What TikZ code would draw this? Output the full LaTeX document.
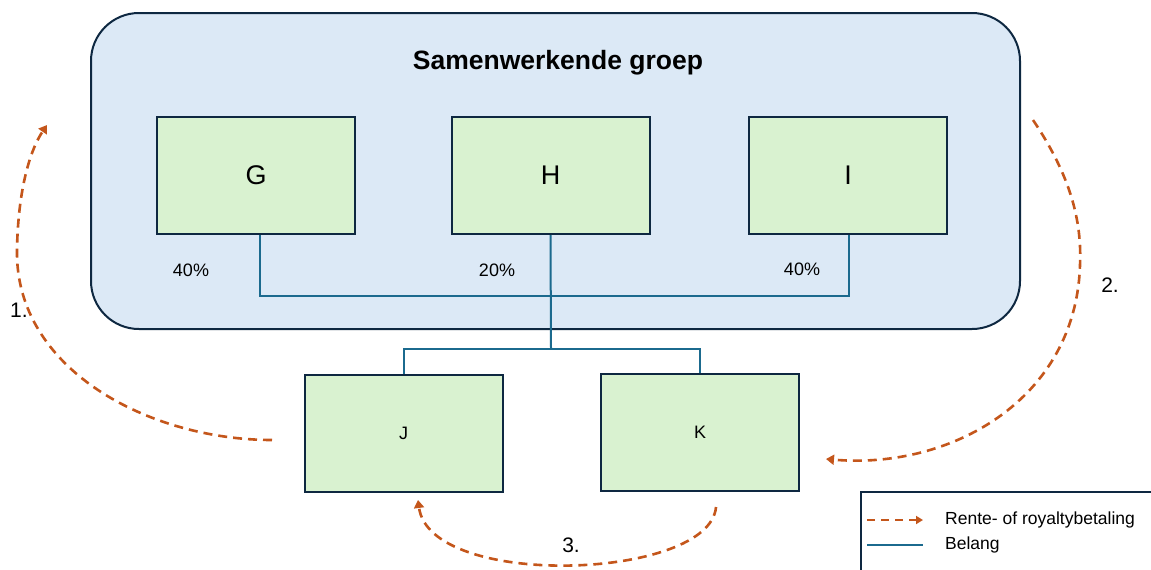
\documentclass[tikz,border=0pt]{standalone}
\usepackage{fontspec}
\setmainfont{Liberation Sans}
\usetikzlibrary{arrows.meta}
\definecolor{groupfill}{HTML}{DCE9F6}
\definecolor{entityfill}{HTML}{D9F2D0}
\definecolor{edge}{HTML}{0E2841}
\definecolor{stake}{HTML}{1B6A8E}
\definecolor{pay}{HTML}{C4561B}
\tikzset{
  x=1pt, y=-1pt,
  entity/.style={draw=edge, line width=2pt, fill=entityfill, minimum width=198pt, minimum height=117pt, inner sep=0pt},
  stakeline/.style={draw=stake, line width=2pt},
  payment/.style={draw=pay, line width=2.6pt, dash pattern=on 9pt off 6pt, -{Triangle[width=10pt,length=8pt]}},
  pct/.style={font=\fontsize{18}{18}\selectfont, inner sep=0pt},
  step label/.style={font=\fontsize{21}{21}\selectfont, inner sep=0pt},
  legend text/.style={anchor=west, inner sep=0pt, font=\fontsize{17.5}{17.5}\selectfont},
}
\begin{document}
\begin{tikzpicture}
\useasboundingbox (0,0) rectangle (1151,570);
% group container
\node[draw=edge, line width=2pt, fill=groupfill, rounded corners=48pt, minimum width=929pt, minimum height=316pt, inner sep=0pt] (grp) at (555.5,171) {};
\node[font=\bfseries\fontsize{26.5}{26.5}\selectfont, inner sep=0pt] (title) at (558,63) {Samenwerkende groep};
% entities
\node[entity] (G) at (256,175.5) {\fontsize{27}{27}\selectfont G};
\node[entity] (H) at (550.5,175.5) {\fontsize{27}{27}\selectfont H};
\node[entity] (I) at (848,175.5) {\fontsize{27}{27}\selectfont I};
\node[entity] (J) at (403.5,433.5) {\fontsize{18}{18}\selectfont J};
\node[entity] (K) at (700,432) {\fontsize{18}{18}\selectfont K};
% shareholdings
\node[pct] (pG) at (191,270) {40\%};
\node[pct] (pH) at (497,270) {20\%};
\node[pct] (pI) at (802,269) {40\%};
\coordinate (bar) at (551,296);
\coordinate (fork) at (551,349);
\draw[stakeline] (G.south -| 260,0) |- (bar) -| (I.south -| 849,0);
\draw[stakeline] (H.south) -- (fork);
\draw[stakeline] (J.north) |- (fork) -| (K.north);
% payment flows
\coordinate (p1s) at (272,440);
\coordinate (p1e) at (47,125);
\coordinate (p2s) at (1033,120);
\coordinate (p2e) at (826,459);
\coordinate (p3s) at (716,507);
\coordinate (p3e) at (418,500);
\draw[payment] (p1s) .. controls (150,440) and (15,370) .. (17,250) .. controls (18,190) and (30,150) .. (p1e);
\draw[payment] (p2s) .. controls (1070,175) and (1082,220) .. (1080,265) .. controls (1076,400) and (950,470) .. (p2e);
\draw[payment] (p3s) .. controls (710,580) and (430,590) .. (p3e);
\node[step label] (s1) at (19,310) {1.};
\node[step label] (s2) at (1110,285) {2.};
\node[step label] (s3) at (571,545) {3.};
% legend
\node[draw=edge, line width=2pt, fill=white, minimum width=320pt, minimum height=120pt, inner sep=0pt, anchor=north west] (leg) at (860,491) {};
\coordinate (l1a) at (867,520);
\coordinate (l1b) at (923,520);
\coordinate (l2a) at (867,545);
\coordinate (l2b) at (923,545);
\draw[payment, line width=2pt, dash pattern=on 8pt off 6pt, -{Triangle[width=8pt,length=7pt]}] (l1a) -- (l1b);
\draw[stakeline] (l2a) -- (l2b);
\node[legend text] (t1) at (945,520) {Rente- of royaltybetaling};
\node[legend text] (t2) at (945,545) {Belang};
\end{tikzpicture}
\end{document}
